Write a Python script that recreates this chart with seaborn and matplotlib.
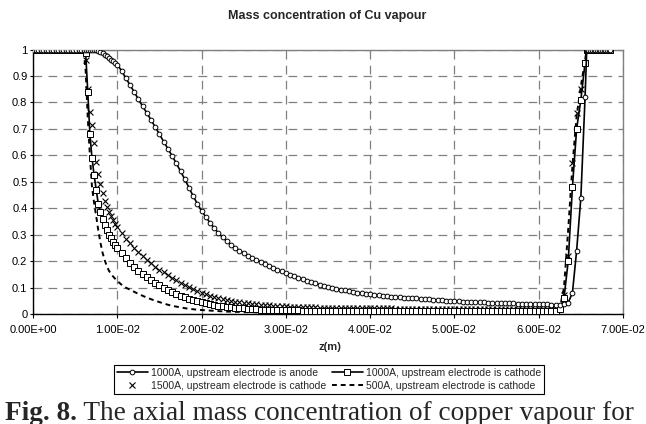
import numpy as np
import pandas as pd
import matplotlib
matplotlib.use("Agg")
import matplotlib.pyplot as plt
import seaborn as sns
from matplotlib.lines import Line2D
from matplotlib.ticker import FixedLocator, FuncFormatter

# ---------------- data (z in mm) ----------------
z_mm = [0.0, 0.3, 0.6, 0.9, 1.2, 1.5, 1.8, 2.1, 2.4, 2.7, 3.0, 3.3, 3.6, 3.9, 4.2, 4.5, 4.8, 5.1, 5.4, 5.7, 6.0,
        6.25, 6.5, 6.75, 7.0, 7.25, 7.5, 7.75, 8.0, 8.25, 8.5, 8.75, 9.0, 9.25, 9.5, 9.75, 10.0,
        10.5, 11.0, 11.5, 12.0, 12.5, 13.0, 13.5, 14.0, 14.5, 15.0, 15.5, 16.0, 16.5, 17.0, 17.5, 18.0, 18.5, 19.0, 19.5, 20.0,
        20.5, 21.0, 21.5, 22.0, 22.5, 23.0, 23.5, 24.0, 24.5, 25.0, 25.5, 26.0, 26.5, 27.0, 27.5, 28.0, 28.5, 29.0, 29.5, 30.0,
        30.5, 31.0, 31.5, 32.0, 32.5, 33.0, 33.5, 34.0, 34.5, 35.0, 35.5, 36.0, 36.5, 37.0, 37.5, 38.0, 38.5, 39.0, 39.5, 40.0,
        40.5, 41.0, 41.5, 42.0, 42.5, 43.0, 43.5, 44.0, 44.5, 45.0, 45.5, 46.0, 46.5, 47.0, 47.5, 48.0, 48.5, 49.0, 49.5, 50.0,
        50.5, 51.0, 51.5, 52.0, 52.5, 53.0, 53.5, 54.0, 54.5, 55.0, 55.5, 56.0, 56.5, 57.0, 57.5, 58.0, 58.5, 59.0, 59.5, 60.0,
        60.5, 61.0, 61.5, 62.0, 62.5, 63.0, 63.5, 64.0, 64.5, 65.0, 65.5,
        65.7, 65.9, 66.1, 66.3, 66.5, 66.7, 66.9, 67.1, 67.3, 67.5, 67.7, 67.9, 68.1, 68.3, 68.5]

y_anode_1000 = [1.0, 1.0, 1.0, 1.0, 1.0, 1.0, 1.0, 1.0, 1.0, 1.0, 1.0, 1.0, 1.0, 1.0, 1.0, 1.0, 1.0, 1.0, 1.0, 1.0, 1.0,
                1.0, 1.0, 1.0, 1.0, 1.0, 0.998, 0.995, 0.99, 0.985, 0.98, 0.975, 0.968, 0.962, 0.956, 0.95, 0.943,
                0.92, 0.893, 0.866, 0.84, 0.812, 0.786, 0.76, 0.734, 0.707, 0.68, 0.652, 0.625, 0.598, 0.57, 0.54, 0.51, 0.478, 0.446, 0.417, 0.39,
                0.367, 0.345, 0.325, 0.306, 0.29, 0.275, 0.262, 0.25, 0.24, 0.23, 0.221, 0.213, 0.205, 0.197, 0.19, 0.183, 0.175, 0.168, 0.161, 0.155,
                0.149, 0.143, 0.137, 0.132, 0.126, 0.121, 0.116, 0.111, 0.106, 0.102, 0.098, 0.095, 0.092, 0.089, 0.086, 0.084, 0.081, 0.079, 0.077, 0.075,
                0.073, 0.071, 0.069, 0.068, 0.066, 0.065, 0.063, 0.062, 0.061, 0.06, 0.059, 0.058, 0.056, 0.055, 0.054, 0.053, 0.052, 0.051, 0.05, 0.049,
                0.048, 0.047, 0.046, 0.046, 0.045, 0.044, 0.044, 0.043, 0.042, 0.042, 0.041, 0.041, 0.04, 0.04, 0.039, 0.039, 0.038, 0.038, 0.037, 0.037,
                0.036, 0.036, 0.035, 0.035, 0.034, 0.036, 0.043, 0.08, 0.24, 0.44, 0.82,
                1.0, 1.0, 1.0, 1.0, 1.0, 1.0, 1.0, 1.0, 1.0, 1.0, 1.0, 1.0, 1.0, 1.0, 1.0]

y_cathode_1000 = [1.0, 1.0, 1.0, 1.0, 1.0, 1.0, 1.0, 1.0, 1.0, 1.0, 1.0, 1.0, 1.0, 1.0, 1.0, 1.0, 1.0, 1.0, 1.0, 1.0, 1.0,
                  0.985, 0.84, 0.68, 0.59, 0.525, 0.47, 0.415, 0.385, 0.36, 0.337, 0.318, 0.3, 0.287, 0.274, 0.262, 0.251,
                  0.23, 0.21, 0.192, 0.177, 0.164, 0.152, 0.14, 0.129, 0.118, 0.108, 0.099, 0.09, 0.083, 0.076, 0.069, 0.063, 0.057, 0.052, 0.048, 0.044,
                  0.04, 0.037, 0.034, 0.031, 0.029, 0.027, 0.025, 0.024, 0.022, 0.021, 0.02, 0.019, 0.018, 0.017, 0.017, 0.016, 0.016, 0.015, 0.015, 0.014,
                  0.014, 0.014, 0.014, 0.013, 0.013, 0.013, 0.013, 0.013, 0.013, 0.013, 0.012, 0.012, 0.012, 0.012, 0.012, 0.012, 0.012, 0.012, 0.012, 0.012,
                  0.012, 0.012, 0.012, 0.012, 0.012, 0.012, 0.012, 0.012, 0.012, 0.012, 0.012, 0.012, 0.012, 0.012, 0.012, 0.012, 0.012, 0.012, 0.012, 0.012,
                  0.012, 0.012, 0.012, 0.012, 0.012, 0.012, 0.012, 0.012, 0.012, 0.012, 0.012, 0.012, 0.012, 0.012, 0.012, 0.012, 0.012, 0.012, 0.012, 0.012,
                  0.012, 0.012, 0.012, 0.013, 0.02, 0.06, 0.2, 0.48, 0.7, 0.81, 0.95,
                  1.0, 1.0, 1.0, 1.0, 1.0, 1.0, 1.0, 1.0, 1.0, 1.0, 1.0, 1.0, 1.0, 1.0, 1.0]

y_cathode_1500 = [1.0, 1.0, 1.0, 1.0, 1.0, 1.0, 1.0, 1.0, 1.0, 1.0, 1.0, 1.0, 1.0, 1.0, 1.0, 1.0, 1.0, 1.0, 1.0, 1.0, 1.0,
                  0.96, 0.85, 0.765, 0.715, 0.645, 0.575, 0.53, 0.49, 0.457, 0.428, 0.405, 0.386, 0.37, 0.355, 0.341, 0.328,
                  0.305, 0.285, 0.267, 0.251, 0.235, 0.219, 0.205, 0.192, 0.179, 0.168, 0.157, 0.146, 0.136, 0.127, 0.118, 0.11, 0.102, 0.094, 0.087, 0.08,
                  0.074, 0.068, 0.063, 0.059, 0.055, 0.052, 0.049, 0.046, 0.044, 0.042, 0.04, 0.038, 0.037, 0.035, 0.034, 0.033, 0.032, 0.031, 0.03, 0.029,
                  0.028, 0.028, 0.027, 0.026, 0.026, 0.025, 0.025, 0.024, 0.024, 0.023, 0.023, 0.023, 0.022, 0.022, 0.022, 0.022, 0.021, 0.021, 0.021, 0.021,
                  0.021, 0.021, 0.021, 0.021, 0.021, 0.02, 0.02, 0.02, 0.02, 0.02, 0.02, 0.02, 0.02, 0.02, 0.02, 0.02, 0.02, 0.02, 0.02, 0.02,
                  0.02, 0.02, 0.02, 0.02, 0.02, 0.02, 0.02, 0.02, 0.02, 0.02, 0.02, 0.02, 0.02, 0.02, 0.02, 0.02, 0.02, 0.02, 0.02, 0.02,
                  0.02, 0.02, 0.02, 0.021, 0.03, 0.07, 0.22, 0.57, 0.76, 0.85, 0.95,
                  1.0, 1.0, 1.0, 1.0, 1.0, 1.0, 1.0, 1.0, 1.0, 1.0, 1.0, 1.0, 1.0, 1.0, 1.0]

y_cathode_500 = [1.0, 1.0, 1.0, 1.0, 1.0, 1.0, 1.0, 1.0, 1.0, 1.0, 1.0, 1.0, 1.0, 1.0, 1.0, 1.0, 1.0, 1.0, 1.0, 1.0, 1.0,
                 0.92, 0.74, 0.6, 0.48, 0.42, 0.37, 0.315, 0.27, 0.232, 0.204, 0.182, 0.164, 0.152, 0.142, 0.133, 0.125,
                 0.111, 0.1, 0.092, 0.084, 0.076, 0.069, 0.062, 0.056, 0.05, 0.045, 0.04, 0.035, 0.031, 0.028, 0.025, 0.022, 0.02, 0.018, 0.016, 0.015,
                 0.014, 0.013, 0.012, 0.011, 0.01, 0.009, 0.009, 0.008, 0.008, 0.007, 0.007, 0.007, 0.006, 0.006, 0.006, 0.006, 0.005, 0.005, 0.005, 0.005,
                 0.005, 0.005, 0.005, 0.005, 0.005, 0.005, 0.005, 0.005, 0.005, 0.005, 0.005, 0.005, 0.005, 0.005, 0.005, 0.005, 0.005, 0.005, 0.005, 0.005,
                 0.005, 0.005, 0.005, 0.005, 0.005, 0.005, 0.005, 0.005, 0.005, 0.005, 0.005, 0.005, 0.005, 0.005, 0.005, 0.005, 0.005, 0.005, 0.005, 0.005,
                 0.005, 0.005, 0.005, 0.005, 0.005, 0.005, 0.005, 0.005, 0.005, 0.005, 0.005, 0.005, 0.005, 0.005, 0.005, 0.005, 0.005, 0.005, 0.005, 0.005,
                 0.005, 0.005, 0.006, 0.008, 0.02, 0.1, 0.32, 0.56, 0.75, 0.86, 0.96,
                 1.0, 1.0, 1.0, 1.0, 1.0, 1.0, 1.0, 1.0, 1.0, 1.0, 1.0, 1.0, 1.0, 1.0, 1.0]

series_labels = ["1000A, upstream electrode is anode",
                 "1000A, upstream electrode is cathode",
                 "1500A, upstream electrode is cathode",
                 "500A, upstream electrode is cathode"]
x_ticks = [0.0, 0.01, 0.02, 0.03, 0.04, 0.05, 0.06, 0.07]
y_ticks = [0.0, 0.1, 0.2, 0.3, 0.4, 0.5, 0.6, 0.7, 0.8, 0.9, 1.0]
title_text = "Mass concentration of Cu vapour"
xlabel_text = "z(m)"
caption_bold = "Fig. 8."
caption_rest = " The axial mass concentration of copper vapour for"

# ---------------- drawing ----------------
sns.set_theme(style="white")
plt.rcParams['font.family'] = ['Liberation Sans', 'DejaVu Sans']

W, H = 646, 424
fig = plt.figure(figsize=(W / 100, H / 100), dpi=100, facecolor='white')
ax = fig.add_axes([33 / W, (H - 314) / H, 590 / W, 264.5 / H])
ax.set_facecolor('white')

df = pd.DataFrame({
    'z': np.array(z_mm) / 1000.0,
    'a1000': y_anode_1000,
    'c1000': y_cathode_1000,
    'c1500': y_cathode_1500,
    'c500': y_cathode_500,
})

sns.lineplot(data=df, x='z', y='c500', ax=ax, color='black', linewidth=1.4,
             linestyle=(0, (2.5, 2.0)), estimator=None, sort=False, zorder=3)
sns.scatterplot(data=df, x='z', y='c1500', ax=ax, marker='x', s=18, color='black',
                linewidth=0.8, zorder=4)
sns.lineplot(data=df, x='z', y='c1000', ax=ax, color='black', linewidth=1.2,
             marker='s', markersize=4.0, markerfacecolor='white', markeredgecolor='black',
             markeredgewidth=0.7, estimator=None, sort=False, zorder=5)
sns.lineplot(data=df, x='z', y='a1000', ax=ax, color='black', linewidth=1.2,
             marker='o', markersize=3.4, markerfacecolor='white', markeredgecolor='black',
             markeredgewidth=0.7, estimator=None, sort=False, zorder=6)

ax.set_xlim(0, 0.07)
ax.set_ylim(0, 1)
ax.xaxis.set_major_locator(FixedLocator(x_ticks))
ax.yaxis.set_major_locator(FixedLocator(y_ticks))
ax.xaxis.set_major_formatter(FuncFormatter(lambda v, p: f"{v:.2E}"))
ax.yaxis.set_major_formatter(FuncFormatter(lambda v, p: f"{v:g}"))
ax.tick_params(axis='x', direction='out', length=3, width=0.8, pad=5, labelsize=8, colors='black')
ax.tick_params(axis='y', direction='out', length=2.5, width=0.8, pad=1.5, labelsize=8, colors='black')
ax.xaxis.set_ticks_position('bottom')
ax.yaxis.set_ticks_position('left')

ax.grid(True, which='major', color='#808080', linewidth=0.9, linestyle=(0, (7, 5)))
ax.set_axisbelow(True)

for side in ['left', 'bottom']:
    ax.spines[side].set_color('black')
    ax.spines[side].set_linewidth(1.0)
for side in ['top', 'right']:
    ax.spines[side].set_color('#808080')
    ax.spines[side].set_linewidth(1.0)
    ax.spines[side].set_visible(True)

ax.set_ylabel('')
ax.set_xlabel(xlabel_text, fontsize=8, fontweight='bold', va='top')
ax.xaxis.set_label_coords((330 - 33) / 590, (314 - 342) / 264.5)

fig.text(327 / W, 1 - 16 / H, title_text, fontsize=9, fontweight='bold',
         ha='center', va='center')

h_anode = Line2D([], [], color='black', lw=1.2, marker='o', markersize=3.4,
                 markerfacecolor='white', markeredgecolor='black', markeredgewidth=0.7)
h_c1000 = Line2D([], [], color='black', lw=1.2, marker='s', markersize=4.0,
                 markerfacecolor='white', markeredgecolor='black', markeredgewidth=0.7)
h_c1500 = Line2D([], [], color='black', lw=0, marker='x', markersize=4.5, markeredgewidth=0.8)
h_c500 = Line2D([], [], color='black', lw=1.4, linestyle=(0, (2.5, 2.0)))
# column-major fill: row 1 = anode | 1000A cathode, row 2 = 1500A | 500A
leg = ax.legend(handles=[h_anode, h_c1500, h_c1000, h_c500],
                labels=[series_labels[0], series_labels[2], series_labels[1], series_labels[3]],
                ncol=2, loc='upper center',
                bbox_to_anchor=(329 / W, 1 - 365 / H), bbox_transform=fig.transFigure,
                frameon=True, fancybox=False, edgecolor='black', fontsize=7.5,
                handlelength=3.0, handletextpad=0.3, columnspacing=0.5,
                borderpad=0.3, labelspacing=0.25, borderaxespad=0)
leg.get_frame().set_linewidth(0.8)
leg.get_frame().set_alpha(1.0)

# caption (figure text beneath the chart)
cap_size = 15
base_y = 4.5 / H
t1 = fig.text(5 / W, base_y, caption_bold, fontsize=cap_size, family='Liberation Serif',
              fontweight='bold', va='baseline', ha='left')
fig.canvas.draw()
r = fig.canvas.get_renderer()
bb1 = t1.get_window_extent(r)
t2 = fig.text(bb1.x1 / W, base_y, caption_rest, fontsize=cap_size, family='Liberation Serif',
              va='baseline', ha='left')
fig.canvas.draw()
bb2 = t2.get_window_extent(r)
total = bb2.x1 - bb1.x0
scale = 632.0 / total
t1.set_fontsize(cap_size * scale)
fig.canvas.draw()
bb1 = t1.get_window_extent(r)
t2.set_fontsize(cap_size * scale)
t2.set_x(bb1.x1 / W)

fig.savefig('out.png', dpi=100, facecolor='white')
